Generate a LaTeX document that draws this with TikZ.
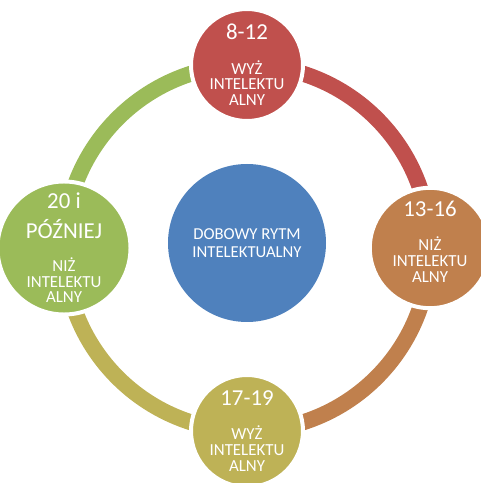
\documentclass[tikz,border=0pt]{standalone}
\usepackage{fontspec}
\setmainfont{Carlito}
\usepackage{tikz}
\usetikzlibrary{positioning, calc, backgrounds}
\definecolor{phasered}{RGB}{192,80,77}
\definecolor{phaseorange}{RGB}{192,128,77}
\definecolor{phaseolive}{RGB}{190,178,86}
\definecolor{phasegreen}{RGB}{155,187,89}
\definecolor{hubblue}{RGB}{79,129,189}
\tikzstyle{phase} = [circle, draw=white, line width=0.08cm, minimum size=2.24cm, inner sep=0pt, text=white, align=center, font=\fontsize{9.6}{9}\selectfont]
\tikzstyle{hub} = [circle, fill=hubblue, minimum size=3.16cm, inner sep=0pt, text=white, align=center, font=\fontsize{9.5}{10.5}\selectfont]
\tikzstyle{ringarc} = [line width=0.32cm]
\newcommand{\hour}[1]{{\fontsize{13}{13}\selectfont #1}}

\begin{document}
\begin{tikzpicture}
        \useasboundingbox (0,0) rectangle (9.62,9.66);
        \node[hub] (rhythm) at (4.94,4.80) {DOBOWY RYTM\\INTELEKTUALNY};
        \node[phase, fill=phasered] (morning) at (4.94,8.36) {\hour{8-12}\\[10.5pt]WYŻ\\INTELEKTU\\ALNY};
        \node[phase, fill=phaseorange] (noon) at (8.60,4.70) {\hour{13-16}\\[10.5pt]NIŻ\\INTELEKTU\\ALNY\\[-1.5pt]};
        \node[phase, fill=phaseolive] (evening) at (4.94,1.04) {\hour{17-19}\\[10.5pt]WYŻ\\INTELEKTU\\ALNY};
        \node[phase, fill=phasegreen] (night) at (1.28,4.70) {\hour{20 i}\\[5pt]\hour{PÓŹNIEJ}\\[9.5pt]NIŻ\\INTELEKTU\\ALNY};
        % ring between the phases
        \begin{scope}[on background layer]
            \draw[ringarc, phasered] (morning.center) to[bend left=45] (noon.center);
            \draw[ringarc, phaseorange] (noon.center) to[bend left=45] (evening.center);
            \draw[ringarc, phaseolive] (evening.center) to[bend left=45] (night.center);
            \draw[ringarc, phasegreen] (night.center) to[bend left=45] (morning.center);
        \end{scope}
\end{tikzpicture}
\end{document}
